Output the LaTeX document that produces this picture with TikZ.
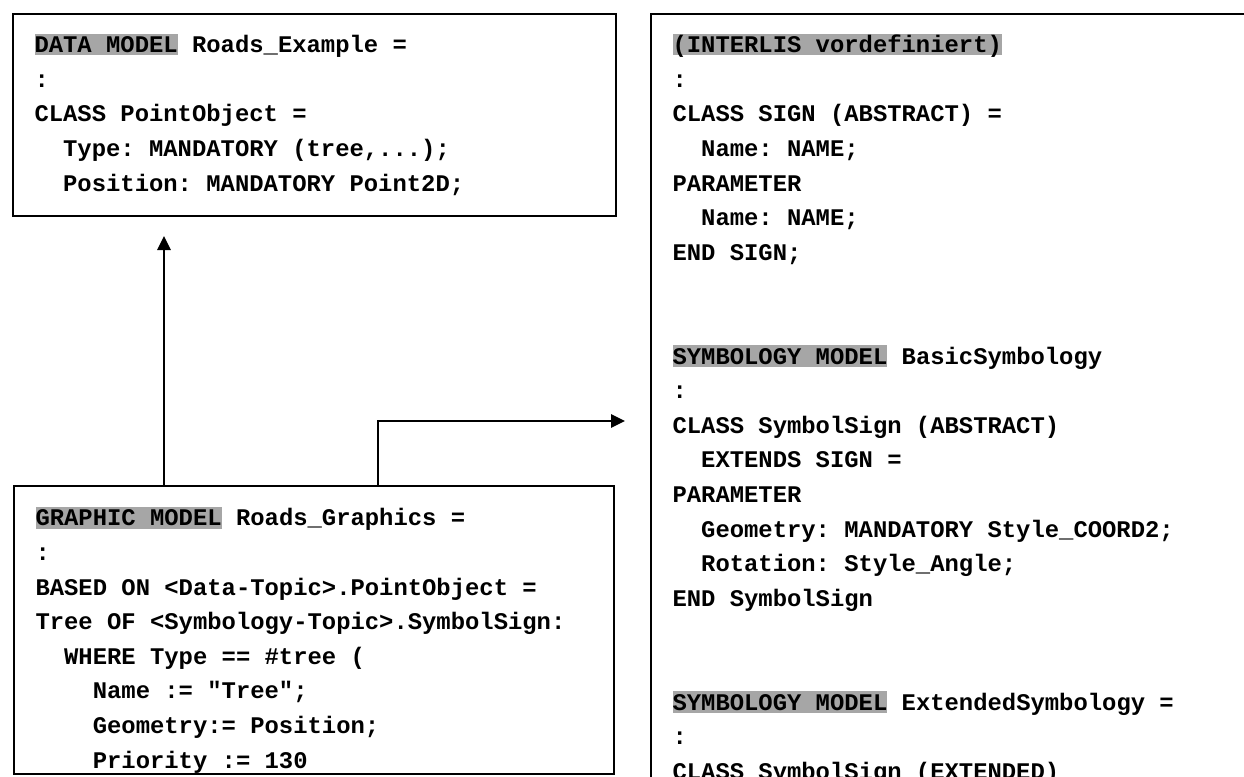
\documentclass[tikz,border=0pt]{standalone}
\usepackage{fontspec}
\setmonofont{Liberation Mono}
\usetikzlibrary{positioning}
\usetikzlibrary{arrows.meta}
\definecolor{kwgray}{RGB}{166,166,166}
\newcommand{\kw}[1]{{\setlength{\fboxsep}{0pt}\colorbox{kwgray}{\rule[-0.12em]{0pt}{0.9em}\smash{#1}}}}
\newcommand{\ind}{\phantom{xx}}
\newcommand{\fl}{\spaceskip=0pt\xspaceskip=0pt\rule{0pt}{0.8em}}

\begin{document}
\begin{tikzpicture}[x=1pt,y=-1pt,thick] %% units: pt, y down
	\tikzstyle{codebox}=[draw,line width=1.2pt,inner sep=0pt,anchor=north west];
	\tikzstyle{code}=[inner sep=0pt,align=left,text width=430pt,anchor=north west,font=\ttfamily\bfseries\fontsize{17.9}{25.95}\selectfont];
	\tikzstyle{flow}=[line width=1.2pt,-{Triangle[length=10.5pt,width=10pt]}];
	\useasboundingbox (0,0) rectangle (933,582.75);
	\clip (0,0) rectangle (933,582.75);
	%% boxes
	\node[codebox,minimum width=452.25pt,minimum height=151.5pt] (datamodel) at (9,9.75) {};
	\node[codebox,minimum width=450pt,minimum height=216pt] (graphicmodel) at (9.75,363.75) {};
	\node[codebox,minimum width=460pt,minimum height=600pt] (symbology) at (487.5,9.75) {};
	%% texts
	\node[code,below right=15pt and 16.5pt of datamodel.north west] (datacode) {%
		\fl\kw{DATA MODEL} Roads\_Example =\\
		:\\
		CLASS PointObject =\\
		\ind Type: MANDATORY (tree,...);\\
		\ind Position: MANDATORY Point2D;};
	\begin{scope}
		\clip (graphicmodel.north west) rectangle (graphicmodel.south east);
		\node[code,below right=16pt and 16.5pt of graphicmodel.north west] (graphiccode) {%
			\fl\kw{GRAPHIC MODEL} Roads\_Graphics =\\
			:\\
			BASED ON <Data-Topic>.PointObject =\\
			Tree OF <Symbology-Topic>.SymbolSign:\\
			\ind WHERE Type == \#tree (\\
			\ind\ind Name := "Tree";\\
			\ind\ind Geometry:= Position;\\
			\ind\ind Priority := 130};
	\end{scope}
	\node[code,below right=15pt and 16.5pt of symbology.north west] (symbolcode) {%
		\fl\kw{(INTERLIS vordefiniert)}\\
		:\\
		CLASS SIGN (ABSTRACT) =\\
		\ind Name: NAME;\\
		PARAMETER\\
		\ind Name: NAME;\\
		END SIGN;\\
		\mbox{}\\
		\mbox{}\\
		\kw{SYMBOLOGY MODEL} BasicSymbology\\
		:\\
		CLASS SymbolSign (ABSTRACT)\\
		\ind EXTENDS SIGN =\\
		PARAMETER\\
		\ind Geometry: MANDATORY Style\_COORD2;\\
		\ind Rotation: Style\_Angle;\\
		END SymbolSign\\
		\mbox{}\\
		\mbox{}\\
		\kw{SYMBOLOGY MODEL} ExtendedSymbology =\\
		:\\
		CLASS SymbolSign (EXTENDED)};
	%% arrows
	\coordinate (dataport) at (123,177);
	\coordinate (signport) at (468.75,315.75);
	\draw[flow] (graphicmodel.north -| dataport) -- (dataport);
	\draw[flow] (graphicmodel.north -| 283.5,0) |- (signport);
\end{tikzpicture}
\end{document}
